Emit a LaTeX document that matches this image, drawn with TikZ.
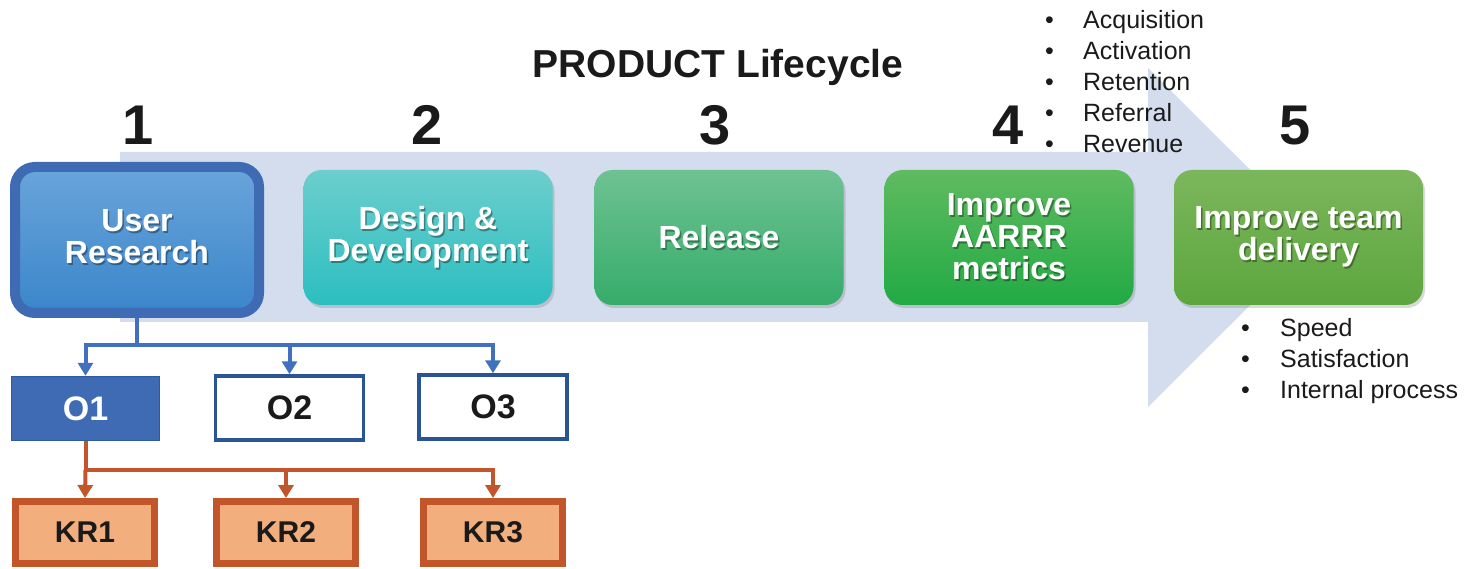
\documentclass[tikz,border=0pt]{standalone}
\usepackage{fontspec}
\setmainfont{Liberation Sans}
\usetikzlibrary{arrows.meta,shadows}
\definecolor{arrowbg}{HTML}{D3DDED}
\definecolor{blueline}{HTML}{4070BF}
\definecolor{oranline}{HTML}{C3552A}
\definecolor{krfill}{HTML}{F2AE7D}
\definecolor{ofill}{HTML}{3E6BB4}
\definecolor{oonefr}{HTML}{2E5B9E}
\definecolor{oborder}{HTML}{2A5595}
\definecolor{inkc}{HTML}{1A1A1A}
\definecolor{bonet}{HTML}{6AA4DB}
\definecolor{boneb}{HTML}{3A86CA}
\definecolor{btwot}{HTML}{6CCECD}
\definecolor{btwob}{HTML}{2CBEC0}
\definecolor{bthrt}{HTML}{6EC292}
\definecolor{bthrb}{HTML}{36AC6A}
\definecolor{bfout}{HTML}{60BB60}
\definecolor{bfoub}{HTML}{21AA44}
\definecolor{bfivt}{HTML}{7CB65C}
\definecolor{bfivb}{HTML}{5CA63E}
\begin{document}
\begin{tikzpicture}[x=1pt,y=-1pt,
  stagebox/.style={rounded corners=18pt, minimum width=249pt, minimum height=135pt, inner sep=0pt,
    drop shadow={opacity=0.3,shadow xshift=2pt,shadow yshift=-3pt}},
  stagetext/.style={align=center, inner sep=0pt, text=white,
    font=\fontsize{32}{32}\selectfont\bfseries},
  stageshadow/.style={stagetext, text=black, opacity=0.35, xshift=1.5pt, yshift=-1.8pt},
  numlabel/.style={anchor=base, inner sep=0pt, text=inkc, font=\fontsize{56}{56}\selectfont\bfseries},
  bullets/.style={anchor=base west, inner sep=0pt, text=inkc, font=\fontsize{25}{31}\selectfont},
  obox/.style={minimum width=148pt, minimum height=64pt, inner sep=0pt, font=\fontsize{34}{34}\selectfont\bfseries},
  krbox/.style={fill=krfill, draw=oranline, line width=7pt, minimum width=139pt, minimum height=62pt,
    inner sep=0pt, text=inkc, font=\fontsize{30}{30}\selectfont\bfseries},
  blueconn/.style={draw=blueline, line width=4pt},
  oranconn/.style={draw=oranline, line width=4pt},
  tip/.style={-{Triangle[length=13pt,width=15pt]}}
]
\useasboundingbox (0,0) rectangle (1478,569);

% background arrow
\fill[arrowbg] (120,152) -- (1148,152) -- (1148,68) -- (1318,237.5) -- (1148,407) -- (1148,322) -- (120,322) -- cycle;

% title and numbers
\node[anchor=base, inner sep=0pt, text=inkc, font=\fontsize{39}{39}\selectfont\bfseries] (title) at (718,78) {PRODUCT Lifecycle};
\node[numlabel] (n1) at (138,145) {1};
\node[numlabel] (n2) at (427,145) {2};
\node[numlabel] (n3) at (715,145) {3};
\node[numlabel] (n4) at (1008,145) {4};
\node[numlabel] (n5) at (1295,145) {5};

% stage boxes
\node[rounded corners=20pt, line width=10pt, draw=ofill, top color=bonet, bottom color=boneb,
      minimum width=244pt, minimum height=146pt, inner sep=0pt] (b1) at (137,240) {};
\node[stagebox, top color=btwot, bottom color=btwob] (b2) at (428,237.5) {};
\node[stagebox, top color=bthrt, bottom color=bthrb] (b3) at (719,237.5) {};
\node[stagebox, top color=bfout, bottom color=bfoub] (b4) at (1009,237.5) {};
\node[stagebox, top color=bfivt, bottom color=bfivb] (b5) at (1298.5,237.5) {};

\node[stageshadow] (s1) at (137,237) {User\\Research};
\node[stagetext] (t1) at (137,237) {User\\Research};
\node[stageshadow] (s2) at (428,237) {Design \&\\Development};
\node[stagetext] (t2) at (428,237) {Design \&\\Development};
\node[stageshadow] (s3) at (719,237) {Release};
\node[stagetext] (t3) at (719,237) {Release};
\node[stageshadow] (s4) at (1009,237) {Improve\\AARRR\\metrics};
\node[stagetext] (t4) at (1009,237) {Improve\\AARRR\\metrics};
\node[stageshadow] (s5) at (1298.5,237) {Improve team\\delivery};
\node[stagetext] (t5) at (1298.5,237) {Improve team\\delivery};

% bullet lists
\node[bullets] (aarrr) at (1045,29) {\begin{tabular}[t]{@{}p{38pt}@{}l@{}}
\textbullet & Acquisition\\ \textbullet & Activation\\ \textbullet & Retention\\ \textbullet & Referral\\ \textbullet & Revenue
\end{tabular}};
\node[bullets] (team) at (1241,337) {\begin{tabular}[t]{@{}p{39pt}@{}l@{}}
\textbullet & Speed\\ \textbullet & Satisfaction\\ \textbullet & Internal process
\end{tabular}};

% objectives
\node[obox, fill=ofill, draw=oonefr, line width=1.5pt, text=white] (o1) at (85.5,408.5) {O1};
\node[obox, fill=white, draw=oborder, line width=3.5pt, text=inkc] (o2) at (289.5,408) {O2};
\node[obox, fill=white, draw=oborder, line width=3.5pt, text=inkc] (o3) at (493,407) {O3};

% key results
\node[krbox] (k1) at (85,532.5) {KR1};
\node[krbox] (k2) at (286,532.5) {KR2};
\node[krbox] (k3) at (493,532.5) {KR3};

% connectors
\coordinate (j1) at (137,345);
\coordinate (j2) at (85.5,470);
\draw[blueconn] (b1.south) -- (j1);
\draw[blueconn, tip] (j1) -| (o1.north);
\draw[blueconn, tip] (j1) -| (o2.north);
\draw[blueconn, tip] (j1) -| (o3.north);
\draw[oranconn] (o1.south) -- (j2);
\draw[oranconn, tip] (j2) -- (k1.north);
\draw[oranconn, tip] (j2) -| (k2.north);
\draw[oranconn, tip] (j2) -| (k3.north);
\end{tikzpicture}
\end{document}
